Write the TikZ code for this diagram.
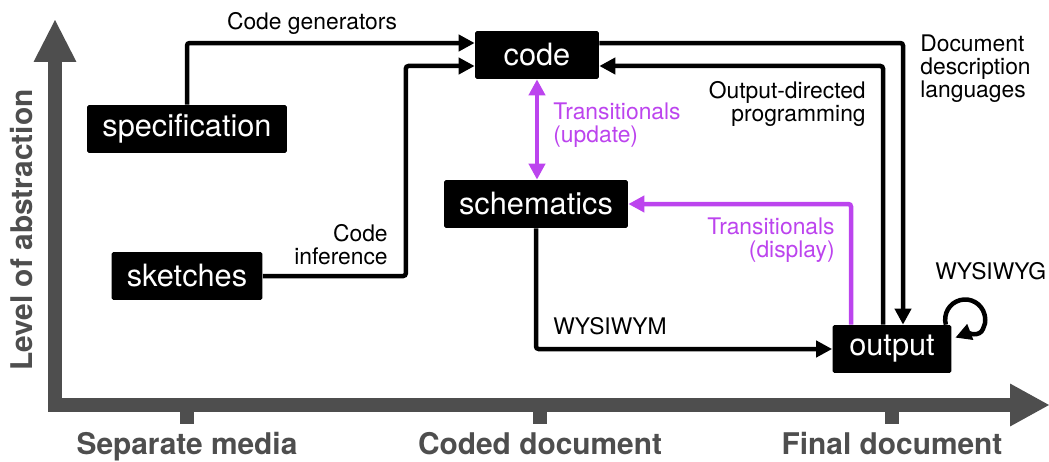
\documentclass[tikz,border=0pt]{standalone}
\usepackage{fontspec}
\setmainfont{TeX Gyre Heros}
\usepackage{xcolor}
\usepackage{tikz}
\usetikzlibrary{arrows.meta,positioning}
\definecolor{axisgray}{RGB}{78,78,78}
\definecolor{transpurple}{RGB}{188,68,238}

\begin{document}
\begin{tikzpicture}[x=0.02cm, y=0.02cm,
    >={Triangle[length=0.32cm, width=0.32cm]},
    box/.style={fill=black, text=white, rounded corners=1pt, minimum height=0.96cm, inner xsep=0.2cm, font=\fontsize{17.5}{21}\selectfont},
    lbl/.style={inner sep=0pt, font=\fontsize{13}{13.3}\selectfont},
    axlbl/.style={inner sep=0pt, text=axisgray, font=\fontsize{17}{20}\selectfont\bfseries},
    arr/.style={->, line width=0.09cm, rounded corners=1.5pt},
    parr/.style={arr, draw=transpurple},
    axis/.style={draw=axisgray, line width=0.28cm, line join=miter}
]
    \useasboundingbox (0,0) rectangle (1049,461);

    % axes
    \draw[axis, {Triangle[length=0.84cm, width=0.86cm, line width=0pt]}-{Triangle[length=0.78cm, width=0.86cm, line width=0pt]}] (55,441) -- (55,56) -- (1049,56);
    \foreach \tx in {187,540,892}
        \draw[axis] (\tx,56) -- (\tx,37);
    \node[axlbl, anchor=base] (sep) at (187,7) {Separate media};
    \node[axlbl, anchor=base] (coded) at (540,7) {Coded document};
    \node[axlbl, anchor=base] (final) at (892,7) {Final document};
    \node[axlbl, anchor=base, rotate=90] (level) at (33,231) {Level of abstraction};

    % media
    \node[box, minimum width=4cm] (spec) at (187,332) {specification};
    \node[box, minimum width=3.02cm] (sketch) at (187,185) {sketches};
    \node[box, minimum width=2.48cm] (code) at (537,406) {code};
    \node[box, minimum width=3.68cm] (schem) at (536,257) {schematics};
    \node[box, minimum width=2.38cm] (out) at (892,112) {output};

    % labels
    \node[lbl, anchor=base] (gen) at (312,432) {Code generators};
    \node[lbl, anchor=north east, align=right] (infer) at (388,237) {Code\\inference};
    \node[lbl, anchor=north west, align=left, text=transpurple] (upd) at (553,359) {Transitionals\\(update)};
    \node[lbl, anchor=north east, align=right] (odp) at (866,380) {Output-directed\\programming};
    \node[lbl, anchor=north west, align=left] (ddl) at (920,427) {Document\\description\\languages};
    \node[lbl, anchor=north east, align=right, text=transpurple] (disp) at (835,244) {Transitionals\\(display)};
    \node[lbl, anchor=north west] (wysiwym) at (553,144) {WYSIWYM};
    \node[lbl, anchor=north west] (wysiwyg) at (935,199) {WYSIWYG};

    % transitions
    \draw[arr] (spec.north) |- ([yshift=0.24cm]code.west);
    \draw[arr] (sketch.east) -- ++(143,0) |- ([yshift=-0.22cm]code.west);
    \draw[arr] ([yshift=0.24cm]code.east) -| ([xshift=0.22cm]out.north);
    \draw[arr] ([xshift=-0.18cm]out.north) |- ([yshift=-0.22cm]code.east);
    \draw[parr] ([xshift=-0.82cm]out.north) |- (schem.east);
    \draw[parr, <->] (code.south) -- (code.south |- schem.north);
    \draw[arr] (schem.south) |- (out.west);
    \draw[arr] ([xshift=-0.12cm]out.north east) arc[start angle=195, end angle=-20, radius=0.4cm] to[out=-110, in=21] ([xshift=0.07cm, yshift=-0.26cm]out.north east);
\end{tikzpicture}
\end{document}
